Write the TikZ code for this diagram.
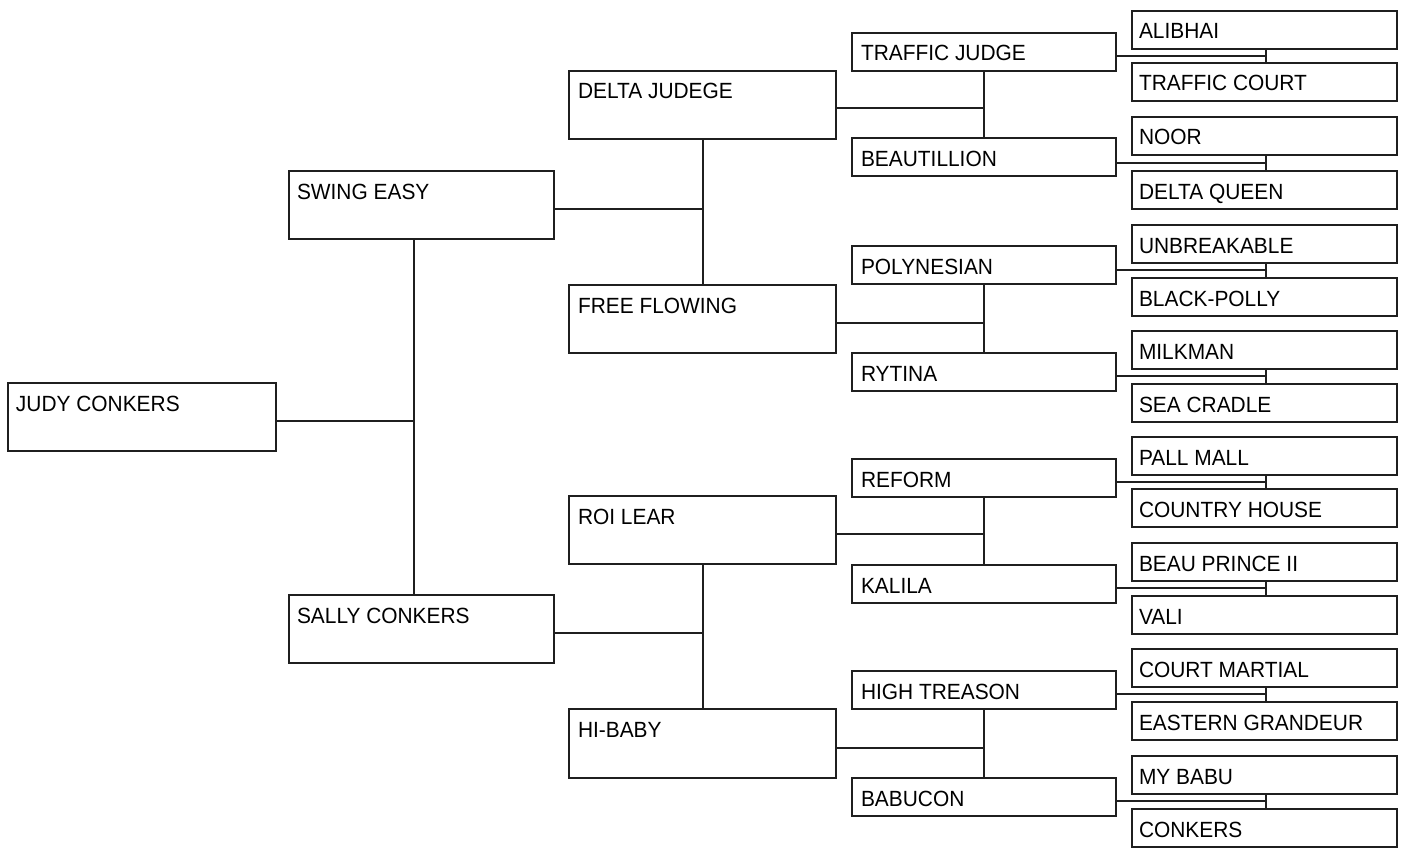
\documentclass[tikz,border=0pt]{standalone}
\usepackage{fontspec}
\setmainfont{Liberation Sans}[FakeStretch=0.95]
\begin{document}
\begin{tikzpicture}[x=1pt,y=-1pt,
  box/.style={draw=black!88, line width=1.6pt, rectangle, anchor=north west, inner sep=0pt, outer sep=0pt},
  big/.style={box, minimum width=266pt, minimum height=68pt},
  small/.style={box, minimum width=264pt, minimum height=38pt},
  lbl/.style={anchor=base west, inner sep=0pt, outer sep=0pt, font=\fontsize{22}{22}\selectfont},
  conn/.style={draw=black!88, line width=1.6pt}]
\useasboundingbox (0,0) rectangle (1405,856);
% level 1
\node[big, minimum width=268pt] (judy) at (8,383) {};
\node[lbl] (tjudy) at (16,411) {JUDY CONKERS};
% level 2
\node[big, minimum width=265pt] (swing) at (289,171) {};
\node[lbl] (tswing) at (297,199) {SWING EASY};
\node[big, minimum width=265pt] (sally) at (289,595) {};
\node[lbl] (tsally) at (297,623) {SALLY CONKERS};
% level 3
\node[big, minimum width=267pt] (delta) at (569,71) {};
\node[lbl] (tdelta) at (578,99) {DELTA JUDEGE};
\node[big, minimum width=267pt] (free) at (569,285) {};
\node[lbl] (tfree) at (578,313) {FREE FLOWING};
\node[big, minimum width=267pt] (roi) at (569,496) {};
\node[lbl] (troi) at (578,524) {ROI LEAR};
\node[big, minimum width=267pt, minimum height=69pt] (hibaby) at (569,709) {};
\node[lbl] (thibaby) at (578,737) {HI-BABY};
% level 4
\node[small] (tj) at (852,33) {};
\node[lbl] (ttj) at (861,61) {TRAFFIC JUDGE};
\node[small] (beau) at (852,138) {};
\node[lbl] (tbeau) at (861,166) {BEAUTILLION};
\node[small] (poly) at (852,246) {};
\node[lbl] (tpoly) at (861,274) {POLYNESIAN};
\node[small] (ryt) at (852,353) {};
\node[lbl] (tryt) at (861,381) {RYTINA};
\node[small] (ref) at (852,459) {};
\node[lbl] (tref) at (861,487) {REFORM};
\node[small] (kal) at (852,565) {};
\node[lbl] (tkal) at (861,593) {KALILA};
\node[small] (ht) at (852,671) {};
\node[lbl] (tht) at (861,699) {HIGH TREASON};
\node[small] (bab) at (852,778) {};
\node[lbl] (tbab) at (861,806) {BABUCON};
% level 5
\foreach \nm/\y/\t in {a/11/ALIBHAI, b/63/TRAFFIC COURT, c/117/NOOR, d/171/DELTA QUEEN,
  e/225/UNBREAKABLE, f/278/BLACK-POLLY, g/331/MILKMAN, h/384/SEA CRADLE,
  i/437/PALL MALL, j/489/COUNTRY HOUSE, k/543/BEAU PRINCE II, l/596/VALI,
  m/649/COURT MARTIAL, n/702/EASTERN GRANDEUR, o/756/MY BABU, p/809/CONKERS}{
  \node[small, minimum width=265pt] (g\nm) at (1132,\y) {};
  \node[lbl] (tg\nm) at (1139,\y+28) {\t};
}
% connectors level 1 -> 2
\coordinate (j1) at (414,421);
\draw[conn] (judy.east |- j1) -- (j1);
\draw[conn] (swing.south -| j1) -- (sally.north -| j1);
% level 2 -> 3
\coordinate (j2a) at (703,209);
\draw[conn] (swing.east |- j2a) -- (j2a);
\draw[conn] (delta.south -| j2a) -- (free.north -| j2a);
\coordinate (j2b) at (703,633);
\draw[conn] (sally.east |- j2b) -- (j2b);
\draw[conn] (roi.south -| j2b) -- (hibaby.north -| j2b);
% level 3 -> 4
\foreach \p/\ca/\cb/\y in {delta/tj/beau/108, free/poly/ryt/323, roi/ref/kal/534, hibaby/ht/bab/748}{
  \coordinate (j3\p) at (984,\y);
  \draw[conn] (\p.east |- j3\p) -- (j3\p);
  \draw[conn] (\ca.south -| j3\p) -- (\cb.north -| j3\p);
}
% level 4 -> 5
\foreach \p/\ca/\cb/\y in {tj/ga/gb/56, beau/gc/gd/163, poly/ge/gf/270, ryt/gg/gh/376,
  ref/gi/gj/482, kal/gk/gl/588, ht/gm/gn/694, bab/go/gp/801}{
  \coordinate (j4\p) at (1266,\y);
  \draw[conn] (\p.east |- j4\p) -- (j4\p);
  \draw[conn] (\ca.south -| j4\p) -- (\cb.north -| j4\p);
}
\end{tikzpicture}
\end{document}
